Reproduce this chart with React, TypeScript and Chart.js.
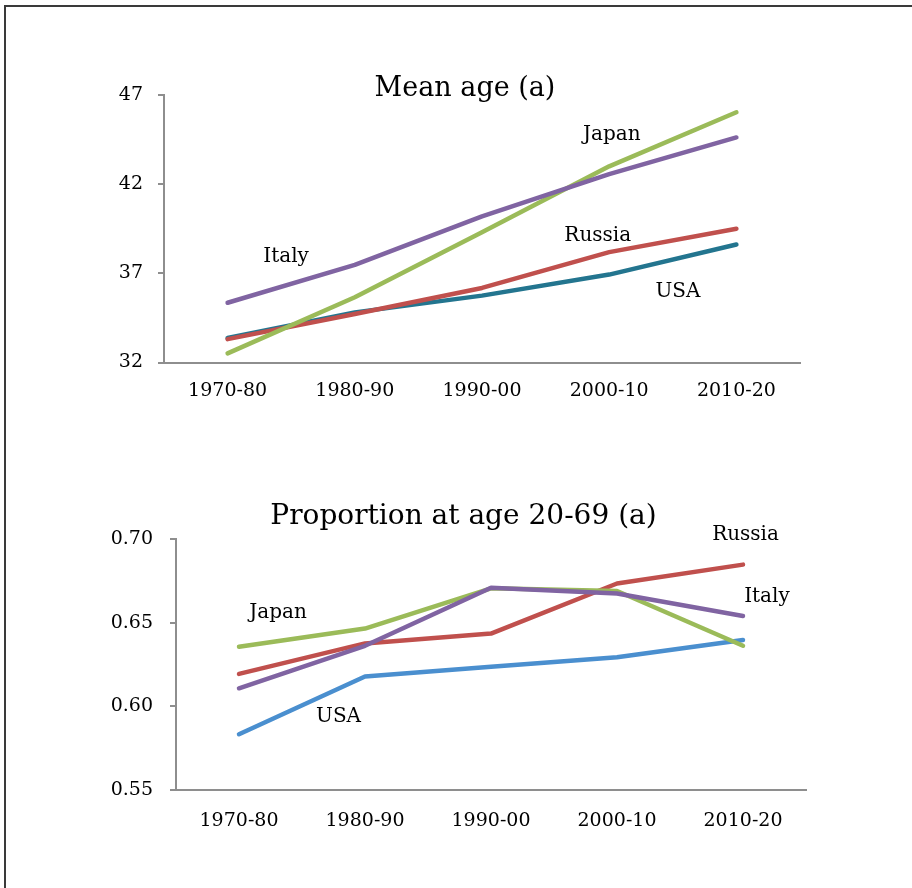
import React, { useEffect, useRef } from "react";
import { Chart, registerables } from "chart.js";

Chart.register(...registerables);

// ---------- data ----------
const categories = ["1970-80", "1980-90", "1990-00", "2000-10", "2010-20"];

const meanItaly = [35.35, 37.47, 40.19, 42.56, 44.62];
const meanJapan = [32.51, 35.66, 39.31, 43.0, 46.03];
const meanRussia = [33.31, 34.72, 36.18, 38.19, 39.5];
const meanUSA = [33.37, 34.81, 35.75, 36.93, 38.62];
const meanTicks = [32, 37, 42, 47];

const propItaly = [0.6108, 0.6362, 0.6709, 0.6674, 0.654];
const propJapan = [0.6356, 0.6465, 0.6705, 0.6689, 0.6362];
const propRussia = [0.6194, 0.6376, 0.6435, 0.6734, 0.6847];
const propUSA = [0.5833, 0.6178, 0.6237, 0.6293, 0.6396];
const propTicks = [0.55, 0.6, 0.65, 0.7];

// in-plot series labels (category position, value)
const meanLabelNames = ["Italy", "Japan", "Russia", "USA"];
const meanLabelCat = [0.46, 3.02, 2.91, 3.54];
const meanLabelVal = [37.91, 44.76, 39.09, 35.95];

const propLabelNames = ["Japan", "USA", "Russia", "Italy"];
const propLabelCat = [0.31, 0.79, 4.02, 4.19];
const propLabelVal = [0.6558, 0.594, 0.7024, 0.6653];

// ---------- styles ----------
const FONT = "'DejaVu Serif', serif";
const AXIS = "#8e8e8e";
const C_ITALY = "#8064A2";
const C_JAPAN = "#9BBB59";
const C_RUSSIA = "#C0504D";
const C_USA1 = "#23758F";
const C_USA2 = "#4A8FCF";

function makeLabelPlugin(names: string[], cats: number[], vals: number[]) {
  return {
    id: "seriesLabels",
    afterDatasetsDraw(chart: any) {
      const ctx = chart.ctx;
      const xs = chart.scales.x;
      const ys = chart.scales.y;
      ctx.save();
      ctx.font = `20px ${FONT}`;
      ctx.fillStyle = "#000";
      ctx.textAlign = "center";
      ctx.textBaseline = "middle";
      names.forEach((n, i) => {
        ctx.fillText(n, xs.getPixelForValue(cats[i]), ys.getPixelForValue(vals[i]));
      });
      ctx.restore();
    },
  };
}

function ds(label: string, data: number[], color: string) {
  return {
    label,
    data,
    borderColor: color,
    backgroundColor: color,
    borderWidth: 4.5,
    pointRadius: 0,
    tension: 0,
    borderCapStyle: "round" as const,
    borderJoinStyle: "round" as const,
  };
}

function buildConfig(opts: {
  title: string;
  titleSize: number;
  titleLine: number;
  titleTop: number;
  titleBottom: number;
  padLeft: number;
  padRight: number;
  yWidth: number;
  xHeight: number;
  xPad: number;
  yPad: number;
  min: number;
  max: number;
  ticks: number[];
  fmt: (v: number) => string;
  datasets: any[];
  plugin: any;
}) {
  return {
    type: "line" as const,
    data: { labels: categories, datasets: opts.datasets },
    options: {
      responsive: false,
      animation: false as const,
      events: [],
      layout: { padding: { left: opts.padLeft, right: opts.padRight, top: 0, bottom: 0 } },
      plugins: {
        legend: { display: false },
        tooltip: { enabled: false },
        title: {
          display: true,
          text: opts.title,
          color: "#000",
          font: { family: FONT, size: opts.titleSize, weight: "normal" as const, lineHeight: `${opts.titleLine}px` },
          padding: { top: opts.titleTop, bottom: opts.titleBottom },
        },
      },
      scales: {
        x: {
          offset: true,
          grid: { display: false, drawTicks: false },
          border: { display: true, color: AXIS, width: 2 },
          ticks: {
            color: "#000",
            font: { family: FONT, size: 19 },
            padding: opts.xPad,
            maxRotation: 0,
            autoSkip: false,
          },
          afterFit: (s: any) => {
            s.height = opts.xHeight;
          },
        },
        y: {
          min: opts.min,
          max: opts.max,
          afterBuildTicks: (s: any) => {
            s.ticks = opts.ticks.map((v) => ({ value: v }));
          },
          grid: { drawOnChartArea: false, drawTicks: true, tickLength: 6, color: AXIS, lineWidth: 2 },
          border: { display: true, color: AXIS, width: 2 },
          ticks: {
            color: "#000",
            font: { family: FONT, size: 19 },
            padding: opts.yPad,
            callback: (v: any) => opts.fmt(Number(v)),
          },
          afterFit: (s: any) => {
            s.width = opts.yWidth;
            // let the tick labels extend left of the (narrow) scale box
            s._computeLabelArea = () => undefined;
          },
        },
      },
    },
    plugins: [opts.plugin],
  };
}

function ChartCanvas({ config, width, height, top }: { config: any; width: number; height: number; top: number }) {
  const ref = useRef<HTMLCanvasElement | null>(null);
  useEffect(() => {
    if (!ref.current) return;
    const chart = new Chart(ref.current, config);
    return () => chart.destroy();
  }, []);
  return (
    <canvas
      ref={ref}
      width={width}
      height={height}
      style={{ position: "absolute", left: 0, top, width, height }}
    />
  );
}

export default function App() {
  const config1 = buildConfig({
    title: "Mean age (a)",
    titleSize: 27,
    titleLine: 13,
    titleTop: 82,
    titleBottom: 0,
    padLeft: 130,
    padRight: 112,
    yWidth: 34,
    xHeight: 67.5,
    xPad: 17,
    yPad: 15,
    min: 32,
    max: 47,
    ticks: meanTicks,
    fmt: (v) => String(Math.round(v)),
    datasets: [
      ds("Italy", meanItaly, C_ITALY),
      ds("Japan", meanJapan, C_JAPAN),
      ds("Russia", meanRussia, C_RUSSIA),
      ds("USA", meanUSA, C_USA1),
    ],
    plugin: makeLabelPlugin(meanLabelNames, meanLabelCat, meanLabelVal),
  });

  const config2 = buildConfig({
    title: "Proportion at age 20-69 (a)",
    titleSize: 28,
    titleLine: 14,
    titleTop: 80,
    titleBottom: 15,
    padLeft: 121,
    padRight: 106,
    yWidth: 55,
    xHeight: 98,
    xPad: 20,
    yPad: 17,
    min: 0.55,
    max: 0.7,
    ticks: propTicks,
    fmt: (v) => v.toFixed(2),
    datasets: [
      ds("Italy", propItaly, C_ITALY),
      ds("Japan", propJapan, C_JAPAN),
      ds("Russia", propRussia, C_RUSSIA),
      ds("USA", propUSA, C_USA2),
    ],
    plugin: makeLabelPlugin(propLabelNames, propLabelCat, propLabelVal),
  });

  return (
    <div
      style={{
        position: "fixed",
        left: 0,
        top: 0,
        width: 912,
        height: 888,
        overflow: "hidden",
        background: "#fff",
      }}
    >
      <div
        style={{
          position: "absolute",
          left: 4,
          top: 5,
          width: 940,
          height: 920,
          borderLeft: "2px solid #3a3a3a",
          borderTop: "2px solid #3a3a3a",
        }}
      />
      <ChartCanvas config={config1} width={912} height={430} top={0} />
      <ChartCanvas config={config2} width={912} height={458} top={430} />
    </div>
  );
}
